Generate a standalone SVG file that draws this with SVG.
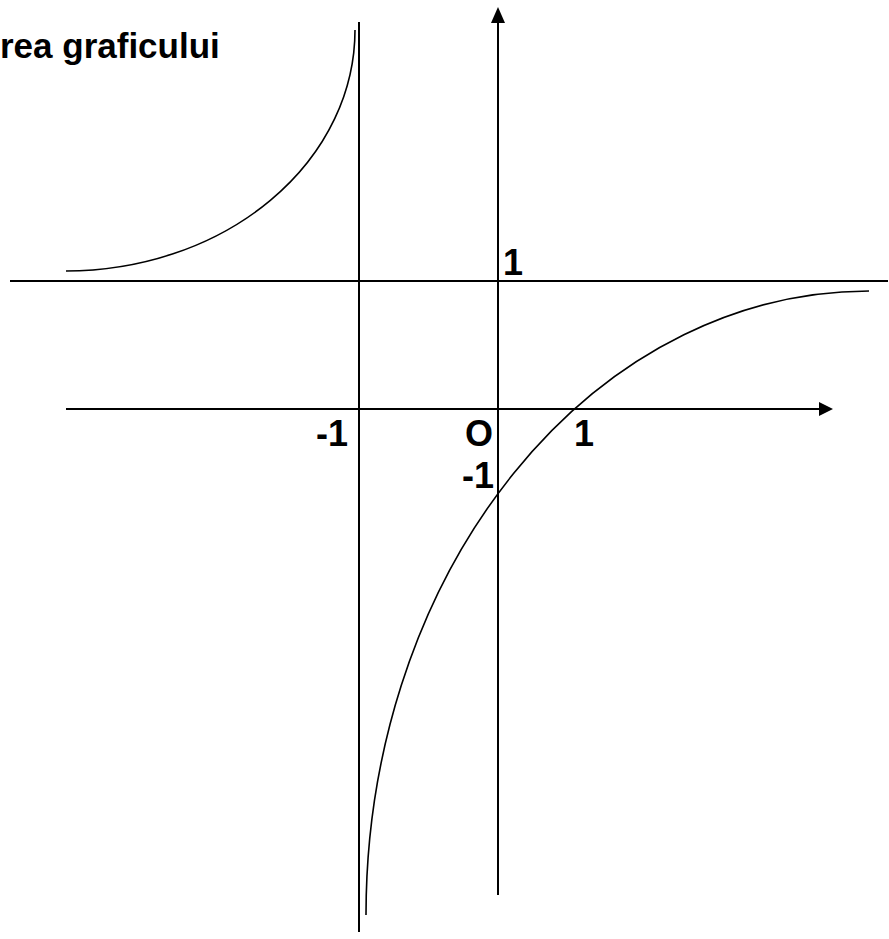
<svg xmlns="http://www.w3.org/2000/svg" width="889" height="939" viewBox="0 0 889 939">
<style>
.ln{stroke:#000;stroke-width:2;fill:none}
.cv{stroke:#000;stroke-width:1.6;fill:none}
.lb{font-family:"Liberation Sans",Arial,sans-serif;font-weight:bold;font-size:36px;fill:#000}
.ti{font-family:"Liberation Sans",Arial,sans-serif;font-weight:bold;font-size:35px;fill:#000}
</style>
<rect width="889" height="939" fill="#fff"/>
<text class="ti" x="0" y="58">rea graficului</text>
<g id="connectors">
<line id="x-axis" class="ln" x1="66" y1="409" x2="821" y2="409"/>
<polygon points="833,409 819,402 819,416" fill="#000"/>
<line id="y-axis" class="ln" x1="498" y1="21" x2="498" y2="895"/>
<polygon points="498,7 491,23 505,23" fill="#000"/>
<line id="asym-v" class="ln" x1="359" y1="22" x2="359" y2="932"/>
<line id="asym-h" class="ln" x1="10" y1="281" x2="888" y2="281"/>
<path id="branch-left" class="cv" d="M66,271 A289,241 0 0 0 355,30"/>
<path id="branch-right" class="cv" d="M366,915 A503,624 0 0 1 869,291"/>
</g>
<g id="labels">
<text class="lb" x="503" y="275">1</text>
<text class="lb" x="316" y="446">-1</text>
<text class="lb" x="465" y="446">O</text>
<text class="lb" x="574" y="446">1</text>
<text class="lb" x="462" y="488">-1</text>
</g>
</svg>
